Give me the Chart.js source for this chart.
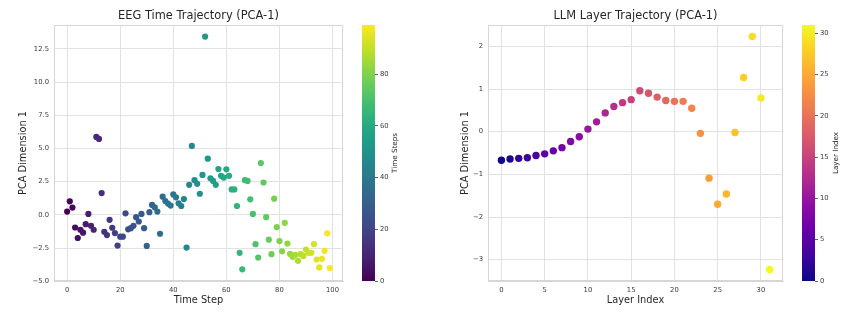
<!DOCTYPE html>
<html><head><meta charset="utf-8">
<script src="https://cdn.jsdelivr.net/npm/chart.js@4.4.1/dist/chart.umd.min.js"></script>
<style>
html,body{margin:0;padding:0;background:#fff;}
body{width:854px;height:322px;position:relative;overflow:hidden;}
canvas{position:absolute;top:0;}
</style></head><body>
<canvas id="eeg" width="350" height="322" style="left:0px"></canvas>
<canvas id="eegcb" width="60" height="322" style="left:355px"></canvas>
<canvas id="llm" width="350" height="322" style="left:440px"></canvas>
<canvas id="llmcb" width="59" height="322" style="left:795px"></canvas>
<script>
// ---------- DATA ----------
const eegTimeSteps = [0,1,2,3,4,5,6,7,8,9,10,11,12,13,14,15,16,17,18,19,20,21,22,23,24,25,26,27,28,29,30,31,32,33,34,35,36,37,38,39,40,41,42,43,44,45,46,47,48,49,50,51,52,53,54,55,56,57,58,59,60,61,62,63,64,65,66,67,68,69,70,71,72,73,74,75,76,77,78,79,80,81,82,83,84,85,86,87,88,89,90,91,92,93,94,95,96,97,98,99];
const eegPCA1 = [
 0.25,1.02,0.55,-0.95,-1.74,-1.12,-1.34,-0.70,0.07,-0.82,
 -1.12,5.87,5.72,1.64,-1.27,-1.52,-0.37,-0.97,-1.37,-2.31,
 -1.64,-1.64,0.12,-1.09,-1.00,-0.82,-0.17,-0.50,0.07,-1.00,
 -2.34,0.20,0.75,0.57,0.25,-1.42,1.37,1.04,0.85,0.70,
 1.54,1.32,0.87,0.67,1.19,-2.46,2.26,5.19,2.61,2.34,
 1.59,3.01,13.43,4.23,2.76,2.56,2.26,3.45,2.94,2.81,
 3.43,2.94,1.92,1.92,0.67,-2.86,-4.10,2.61,2.56,1.17,
 0.07,-2.21,-3.21,3.90,2.44,-0.17,-1.87,-2.96,1.22,-0.92,
 -1.97,-2.74,-0.60,-2.16,-2.94,-3.16,-3.01,-3.46,-2.96,-3.09,
 -2.61,-2.86,-2.86,-2.21,-3.36,-3.96,-3.31,-2.71,-1.39,-4.00];
const eegXTicks = [0,20,40,60,80,100];
const eegYTicks = [-5,-2.5,0,2.5,5,7.5,10,12.5];
const eegCbTicks = [0,20,40,60,80];

const llmLayers = [0,1,2,3,4,5,6,7,8,9,10,11,12,13,14,15,16,17,18,19,20,21,22,23,24,25,26,27,28,29,30,31];
const llmPCA1 = [-0.67,-0.64,-0.625,-0.61,-0.56,-0.52,-0.45,-0.375,-0.23,-0.12,
 0.06,0.23,0.44,0.59,0.68,0.75,0.96,0.90,0.81,0.73,
 0.71,0.71,0.55,-0.04,-1.09,-1.70,-1.46,-0.02,1.27,2.23,
 0.79,-3.23];
const llmXTicks = [0,5,10,15,20,25,30];
const llmYTicks = [-3,-2,-1,0,1,2];
const llmCbTicks = [0,5,10,15,20,25,30];

// ---------- COLORMAPS ----------
const VIRIDIS = ['#440154','#482475','#414487','#355f8d','#2a788e','#21918c','#22a884','#44bf70','#7ad151','#bddf26','#fde725'];
const PLASMA  = ['#0d0887','#41049d','#6a00a8','#8f0da4','#b12a90','#cc4778','#e16462','#f2844b','#fca636','#fcce25','#f0f921'];
function hex2rgb(h){return [parseInt(h.slice(1,3),16),parseInt(h.slice(3,5),16),parseInt(h.slice(5,7),16)];}
function cmap(stops,t){
  t=Math.max(0,Math.min(1,t));const n=stops.length-1;const i=Math.min(n-1,Math.floor(t*n));const f=t*n-i;
  const a=hex2rgb(stops[i]),b=hex2rgb(stops[i+1]);
  return 'rgb('+a.map((v,k)=>Math.round(v+(b[k]-v)*f)).join(',')+')';
}

Chart.defaults.font.family = "'DejaVu Sans', sans-serif";
Chart.defaults.animation = false;

const GRID = '#e2e2e2';
const TICKC = '#3a3a3a';
const TEXTC = '#262626';
const TICKFONT = 6.8, LABELFONT = 9.8, TITLEFONT = 11.4, CBLABELFONT = 7.2;
const minus = s => String(s).replace('-', '\u2212');

const frame = {
  id:'frame',
  beforeDatasetsDraw(chart){
    const a=chart.chartArea,ctx=chart.ctx;
    ctx.save();ctx.strokeStyle='#d6d6d6';ctx.lineWidth=1;
    ctx.strokeRect(Math.round(a.left)+0.5,Math.round(a.top)+0.5,Math.round(a.right-a.left)-1,Math.round(a.bottom-a.top)-1);
    ctx.restore();
  },
  afterDraw(chart){
    const a=chart.chartArea,ctx=chart.ctx,t=chart.options.plugins.frame;
    ctx.save();ctx.fillStyle=TEXTC;ctx.font=TITLEFONT+"px 'DejaVu Sans'";ctx.textAlign='center';ctx.textBaseline='middle';
    ctx.fillText(t.title,(a.left+a.right)/2,16.5);ctx.restore();
  }
};

function mainChart(id, xs, ys, stops, cmin, cmax, cfg){
  const pts = xs.map((x,i)=>({x:x,y:ys[i]}));
  return new Chart(document.getElementById(id), {
    type:'scatter',
    data:{datasets:[{data:pts, pointRadius:cfg.r, pointHoverRadius:cfg.r, borderWidth:0,
      pointBackgroundColor: xs.map(v=>cmap(stops,(v-cmin)/(cmax-cmin))),
      pointBorderWidth:0}]},
    plugins:[frame],
    options:{
      responsive:false, animation:false,
      layout:{padding:{left:0,right:7,top:25,bottom:0}},
      plugins:{legend:{display:false}, tooltip:{enabled:false}, title:{display:false}, frame:{title:cfg.title}},
      scales:{
        x:{type:'linear', min:cfg.xmin, max:cfg.xmax,
          afterBuildTicks:s=>{s.ticks=cfg.xticks.map(v=>({value:v}));},
          afterFit:s=>{s.height=41;},
          ticks:{color:TICKC, font:{size:TICKFONT}, padding:5, maxRotation:0, callback:v=>minus(v)},
          grid:{color:GRID, drawTicks:false}, border:{color:'#d6d6d6'},
          title:{display:true, text:cfg.xlabel, color:TEXTC, font:{size:LABELFONT}, padding:{top:0,bottom:15.7}}},
        y:{type:'linear', min:cfg.ymin, max:cfg.ymax,
          afterBuildTicks:s=>{s.ticks=cfg.yticks.map(v=>({value:v}));},
          afterFit:s=>{s.width=cfg.yw;},
          ticks:{color:TICKC, font:{size:TICKFONT}, padding:5, callback:cfg.yfmt},
          grid:{color:GRID, drawTicks:false}, border:{color:'#d6d6d6'},
          title:{display:true, text:'PCA Dimension 1', color:TEXTC, font:{size:LABELFONT}, padding:{top:cfg.ytp,bottom:0}}}
      }
    }
  });
}

function colorbar(id, stops, vmax, ticks, label, labelX){
  const cbPlugin = {
    id:'cb',
    beforeDatasetsDraw(chart){
      const a=chart.chartArea,ctx=chart.ctx,y=chart.scales.y;
      const y0=y.getPixelForValue(0), y1=y.getPixelForValue(vmax);
      const g=ctx.createLinearGradient(0,y0,0,y1);
      stops.forEach((c,i)=>g.addColorStop(i/(stops.length-1),c));
      ctx.save();ctx.fillStyle=g;ctx.fillRect(a.left,y1,a.right-a.left,y0-y1);ctx.restore();
    },
    afterDraw(chart){
      const a=chart.chartArea,ctx=chart.ctx;
      ctx.save();ctx.translate(labelX,(a.top+a.bottom)/2);ctx.rotate(-Math.PI/2);
      ctx.fillStyle=TEXTC;ctx.font=CBLABELFONT+"px 'DejaVu Sans'";ctx.textAlign='center';ctx.textBaseline='middle';
      ctx.fillText(label,0,0);ctx.restore();
    }
  };
  const w = document.getElementById(id).width;
  return new Chart(document.getElementById(id), {
    type:'scatter', data:{datasets:[{data:[]}]}, plugins:[cbPlugin],
    options:{responsive:false, animation:false,
      layout:{padding:{left:7,right:0,top:25,bottom:41}},
      plugins:{legend:{display:false},tooltip:{enabled:false}},
      scales:{
        x:{display:false, min:0, max:1},
        y:{position:'right', min:0, max:vmax,
          afterBuildTicks:s=>{s.ticks=ticks.map(v=>({value:v}));},
          afterFit:s=>{s.width=w-20;},
          ticks:{color:TICKC, font:{size:TICKFONT}, padding:2},
          grid:{drawOnChartArea:false, drawTicks:true, tickLength:3, color:TICKC, tickWidth:0.8},
          border:{display:false}}
      }}
  });
}

mainChart('eeg', eegTimeSteps, eegPCA1, VIRIDIS, 0, 99, {
  title:'EEG Time Trajectory (PCA-1)', xlabel:'Time Step', r:3.1,
  xmin:-4.95, xmax:103.95, ymin:-4.98, ymax:14.3, xticks:eegXTicks, yticks:eegYTicks,
  yfmt:v=>minus(Number(v).toFixed(1)), yw:54, ytp:17.2});
colorbar('eegcb', VIRIDIS, 99, eegCbTicks, 'Time Steps', 40);

mainChart('llm', llmLayers, llmPCA1, PLASMA, 0, 31, {
  title:'LLM Layer Trajectory (PCA-1)', xlabel:'Layer Index', r:3.7,
  xmin:-1.55, xmax:32.55, ymin:-3.5, ymax:2.5, xticks:llmXTicks, yticks:llmYTicks,
  yfmt:v=>minus(v), yw:48, ytp:19.2});
colorbar('llmcb', PLASMA, 31, llmCbTicks, 'Layer Index', 41);
</script>
</body></html>
